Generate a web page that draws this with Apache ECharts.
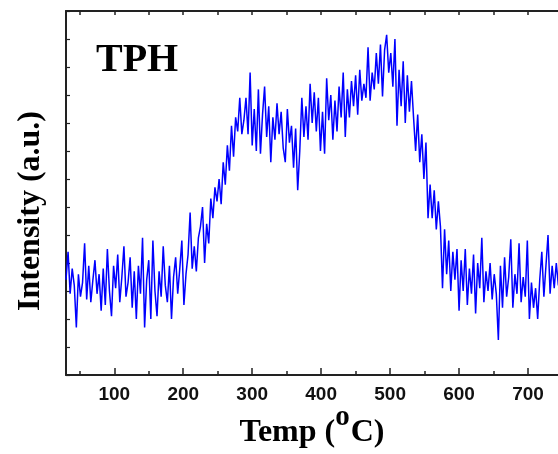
<!DOCTYPE html>
<html>
<head>
<meta charset="utf-8">
<script src="https://cdn.jsdelivr.net/npm/echarts@6/dist/echarts.min.js"></script>
<style>
html,body{margin:0;padding:0;background:#fff;}
#chart{width:558px;height:454px;}
</style>
</head>
<body>
<div id="chart"></div>
<script>
// Temperature (°C)
var temps = [
  30, 33, 36, 39, 42, 45, 48, 51, 54, 57,
  60, 63, 66, 69, 72, 75, 78, 81, 84, 87,
  90, 93, 96, 99, 102, 105, 108, 111, 114, 117,
  120, 123, 126, 129, 132, 135, 138, 141, 144, 147,
  150, 153, 156, 159, 162, 165, 168, 171, 174, 177,
  180, 183, 186, 189, 192, 195, 198, 201, 204, 207,
  210, 213, 216, 219, 222, 225, 228, 231, 234, 237,
  240, 243, 246, 249, 252, 255, 258, 261, 264, 267,
  270, 273, 276, 279, 282, 285, 288, 291, 294, 297,
  300, 303, 306, 309, 312, 315, 318, 321, 324, 327,
  330, 333, 336, 339, 342, 345, 348, 351, 354, 357,
  360, 363, 366, 369, 372, 375, 378, 381, 384, 387,
  390, 393, 396, 399, 402, 405, 408, 411, 414, 417,
  420, 423, 426, 429, 432, 435, 438, 441, 444, 447,
  450, 453, 456, 459, 462, 465, 468, 471, 474, 477,
  480, 483, 486, 489, 492, 495, 498, 501, 504, 507,
  510, 513, 516, 519, 522, 525, 528, 531, 534, 537,
  540, 543, 546, 549, 552, 555, 558, 561, 564, 567,
  570, 573, 576, 579, 582, 585, 588, 591, 594, 597,
  600, 603, 606, 609, 612, 615, 618, 621, 624, 627,
  630, 633, 636, 639, 642, 645, 648, 651, 654, 657,
  660, 663, 666, 669, 672, 675, 678, 681, 684, 687,
  690, 693, 696, 699, 702, 705, 708, 711, 714, 717,
  720, 723, 726, 729, 732, 735, 738, 741, 744, 747,
  750
];
// Intensity (a.u.)
var intensity = [
  3.4, 4.4, 2.9, 3.8, 3.2, 1.7, 3.6, 2.8, 3.3, 4.7,
  2.7, 3.9, 2.6, 3.4, 4.1, 2.9, 3.6, 2.3, 3.8, 2.5,
  4.5, 3.0, 2.1, 3.9, 3.1, 4.3, 2.6, 3.5, 4.6, 2.8,
  3.3, 4.2, 2.4, 3.7, 2.0, 3.9, 2.9, 4.9, 1.7, 3.4,
  4.1, 2.0, 4.8, 3.0, 2.1, 3.7, 2.8, 4.6, 3.2, 2.6,
  3.9, 2.0, 3.5, 4.2, 2.9, 3.8, 4.8, 2.5, 3.6, 4.3,
  5.8, 3.8, 4.6, 3.7, 4.9, 5.3, 6.0, 4.0, 5.4, 4.7,
  6.3, 5.6, 6.7, 6.2, 7.0, 6.1, 7.6, 6.8, 8.2, 7.3,
  8.9, 7.8, 9.2, 8.7, 9.9, 8.6, 9.1, 9.9, 8.6, 10.8,
  8.2, 9.5, 8.0, 10.2, 7.9, 9.3, 10.3, 8.5, 9.6, 7.6,
  9.2, 8.4, 9.7, 8.6, 9.4, 8.1, 7.6, 9.5, 8.3, 8.9,
  7.4, 8.8, 6.6, 8.0, 9.9, 8.5, 9.6, 8.4, 10.4, 9.0,
  10.1, 8.7, 9.9, 8.0, 9.4, 7.9, 10.6, 9.1, 10.0, 8.4,
  9.8, 8.7, 10.3, 9.2, 10.8, 8.5, 10.2, 9.2, 10.5, 9.6,
  10.7, 9.3, 10.9, 9.8, 10.4, 9.9, 11.7, 9.8, 10.8, 10.2,
  11.5, 10.4, 11.8, 9.95, 11.6, 12.15, 10.8, 11.5, 10.3, 12.0,
  8.9, 10.9, 9.6, 11.2, 9.0, 10.7, 9.4, 10.5, 9.2, 8.0,
  9.3, 7.6, 8.6, 7.0, 8.3, 5.6, 6.8, 5.6, 6.6, 5.2,
  6.2, 5.3, 3.1, 5.2, 3.6, 4.8, 3.0, 4.4, 3.4, 4.5,
  2.3, 4.1, 3.0, 4.5, 2.5, 3.8, 2.9, 4.3, 2.2, 4.0,
  3.1, 4.9, 2.6, 3.7, 3.0, 4.0, 2.7, 3.6, 2.9, 1.25,
  3.9, 2.4, 4.2, 2.8, 3.5, 4.85, 2.4, 3.6, 2.9, 4.7,
  2.6, 3.5, 2.8, 4.8, 2.0, 3.3, 2.4, 3.1, 2.0, 3.4,
  4.4, 2.8, 3.9, 5.0, 2.9, 3.9, 3.1, 4.0, 3.2, 3.7,
  3.4
];
var xLabelTicks = [100, 200, 300, 400, 500, 600, 700];
var xMinorTicks = [50, 150, 250, 350, 450, 550, 650, 750];
var xTopTicks = [50, 100, 150, 200, 250, 300, 350, 400, 450, 500, 550, 600, 650, 700, 750];

var seriesData = temps.map(function (t, i) { return [t, intensity[i]]; });

var axisColor = '#222';
var serif = '"Liberation Serif", "Times New Roman", serif';
var chart = echarts.init(document.getElementById('chart'), null, {renderer: 'canvas'});
var xBase = {
  type: 'value', min: 30, max: 750, gridIndex: 0,
  splitLine: {show: false}
};
chart.setOption({
  animation: false,
  backgroundColor: '#fff',
  grid: {left: 66, top: 11, right: -4.5, bottom: 79, containLabel: false, outerBoundsMode: 'none'},
  xAxis: [
    Object.assign({}, xBase, {
      position: 'bottom',
      axisLine: {show: true, onZero: false, lineStyle: {color: axisColor, width: 2}},
      axisTick: {show: true, inside: true, length: 7, lineStyle: {color: axisColor, width: 1.5}, customValues: xLabelTicks},
      axisLabel: {show: true, customValues: xLabelTicks, margin: 10, color: '#111',
        fontFamily: 'Liberation Sans, Arial, sans-serif', fontWeight: 'bold', fontSize: 19}
    }),
    Object.assign({}, xBase, {
      position: 'bottom',
      axisLine: {show: false, onZero: false},
      axisTick: {show: true, inside: true, length: 4, lineStyle: {color: axisColor, width: 1.5}, customValues: xMinorTicks},
      axisLabel: {show: false}
    }),
    Object.assign({}, xBase, {
      position: 'top',
      axisLine: {show: true, onZero: false, lineStyle: {color: axisColor, width: 2}},
      axisTick: {show: true, inside: true, length: 4, lineStyle: {color: axisColor, width: 1.5}, customValues: xTopTicks},
      axisLabel: {show: false}
    })
  ],
  yAxis: [{
    type: 'value', min: 0, max: 13, interval: 1,
    axisLine: {show: true, onZero: false, lineStyle: {color: axisColor, width: 2}},
    axisTick: {show: true, inside: true, length: 4, lineStyle: {color: axisColor, width: 1.2}},
    axisLabel: {show: false},
    splitLine: {show: false}
  }],
  graphic: [
    {
      type: 'text', left: 96, top: 41, silent: true,
      style: {text: 'TPH', fill: '#000', font: 'bold 40px ' + serif}
    },
    {
      type: 'text', x: 31, y: 211, rotation: Math.PI / 2, silent: true,
      style: {text: 'Intensity (a.u.)', fill: '#000', align: 'center', verticalAlign: 'middle',
        font: 'bold 32px ' + serif}
    },
    {
      type: 'text', x: 312, y: 431, silent: true,
      style: {
        text: '{a|Temp (}{s|o}{a|C)}',
        align: 'center', verticalAlign: 'middle',
        rich: {
          a: {fontFamily: serif, fontWeight: 'bold', fontSize: 32, fill: '#000', verticalAlign: 'bottom', lineHeight: 36},
          s: {fontFamily: serif, fontWeight: 'bold', fontSize: 29, fill: '#000', verticalAlign: 'bottom', lineHeight: 36, padding: [0, 1, 17, 0]}
        }
      }
    }
  ],
  series: [{
    type: 'line',
    xAxisIndex: 0,
    yAxisIndex: 0,
    data: seriesData,
    showSymbol: false,
    symbol: 'none',
    lineStyle: {color: '#0000ff', width: 1.5},
    itemStyle: {color: '#0000ff'},
    clip: true
  }]
});
</script>
</body>
</html>
